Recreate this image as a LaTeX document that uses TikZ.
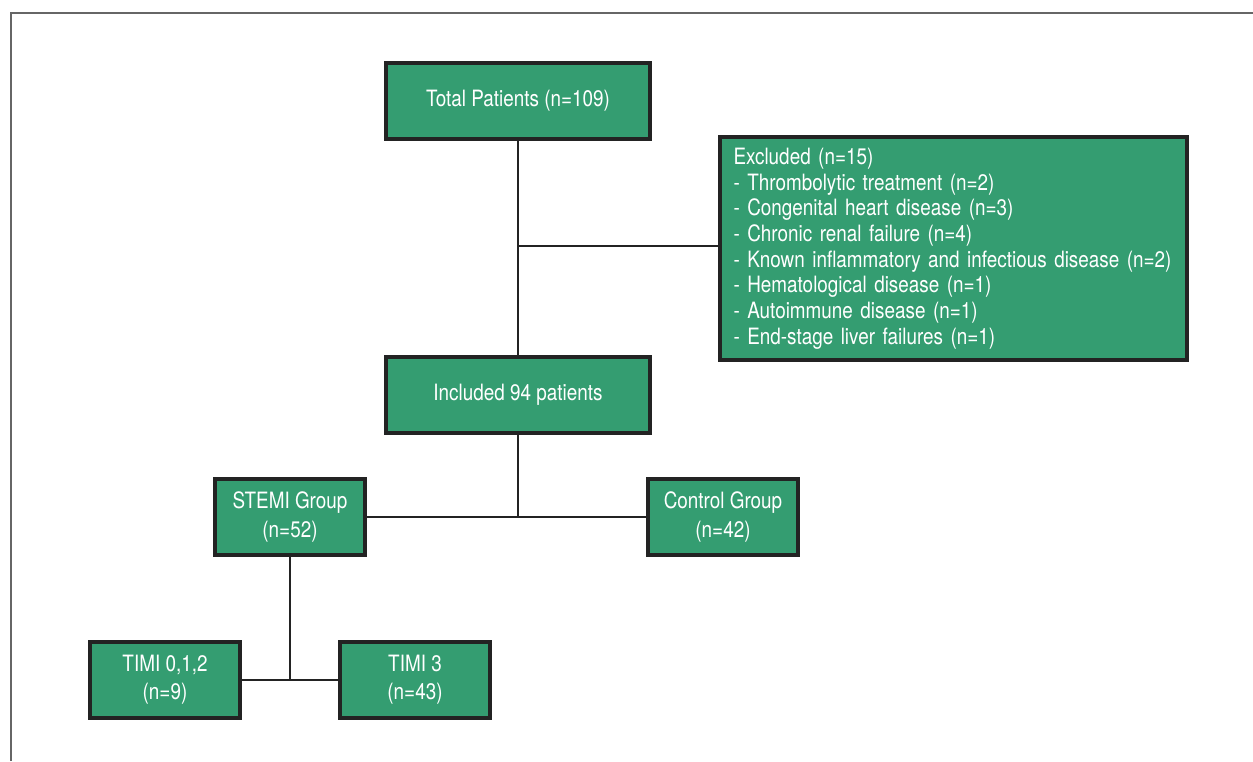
\documentclass[tikz,border=0pt]{standalone}
\usepackage{fontspec}
\setmainfont[FakeStretch=0.84]{TeX Gyre Heros}
\usetikzlibrary{positioning}
\definecolor{boxgreen}{RGB}{52,157,113}
\definecolor{boxedge}{RGB}{35,35,35}
\begin{document}
\begin{tikzpicture}[x=0.02cm,y=-0.02cm]
		\tikzstyle{box} = [draw=boxedge, line width=1.9pt, fill=boxgreen, text=white, font=\fontsize{12.8}{14.6}\selectfont, align=center, inner sep=0]
		\tikzstyle{line} = [draw=boxedge, line width=1.5pt]
		\tikzstyle{invisible} = [outer sep=0,inner sep=0,minimum size=0]
		\useasboundingbox (0,0) rectangle (1253,761);
		\draw [line width=1.4pt, draw=black!60] (11,761) -- (11,13) -- (1253,13);
		\node [box, minimum width=264*0.02cm, minimum height=76*0.02cm] (v1) at (518,101) {Total Patients (n=109)};
		\node [box, minimum width=467*0.02cm, minimum height=223*0.02cm, align=left, text width=440*0.02cm] (v2) at (953.5,248.5) {Excluded (n=15)\\
			- Thrombolytic treatment (n=2)\\
			- Congenital heart disease (n=3)\\
			- Chronic renal failure (n=4)\\
			- Known inflammatory and infectious disease (n=2)\\
			- Hematological disease (n=1)\\
			- Autoimmune disease (n=1)\\
			- End-stage liver failures (n=1)};
		\node [box, minimum width=264*0.02cm, minimum height=76*0.02cm] (v3) at (518,395) {Included 94 patients};
		\node [box, minimum width=150*0.02cm, minimum height=76*0.02cm] (v4) at (290,517) {STEMI Group\\[1.4pt](n=52)};
		\node [box, minimum width=150*0.02cm, minimum height=76*0.02cm] (v5) at (723,517) {Control Group\\[1.4pt](n=42)};
		\node [box, minimum width=150*0.02cm, minimum height=76*0.02cm] (v6) at (165,680) {TIMI 0,1,2\\[1.4pt](n=9)};
		\node [box, minimum width=150*0.02cm, minimum height=76*0.02cm] (v7) at (415,680) {TIMI 3\\[1.4pt](n=43)};
		\coordinate (v8) at (518,246);
		\coordinate (v9) at (518,517);
		\coordinate (v10) at (290,680);
		\draw [line] (v1) -- (v3);
		\draw [line] (v8) -- (v8 -| v2.west);
		\draw [line] (v3) -- (v9);
		\draw [line] (v4) -- (v5);
		\draw [line] (v4) -- (v10);
		\draw [line] (v6) -- (v7);
\end{tikzpicture}
\end{document}
